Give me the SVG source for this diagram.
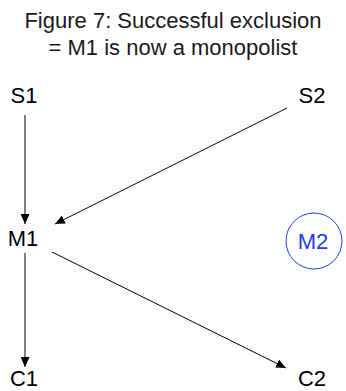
<svg xmlns="http://www.w3.org/2000/svg" width="346" height="391" viewBox="0 0 346 391">
<defs>
<style>
text{font-family:"Liberation Sans",Arial,sans-serif;text-anchor:middle}
.t{font-size:22px;fill:#1a1a1a}
.n{font-size:22px;fill:#000}
.b{fill:#1a3cff}
.e{stroke:#000;stroke-width:1;fill:none;marker-end:url(#ah)}
</style>
<marker id="ah" viewBox="0 0 10 10" refX="10" refY="5" markerWidth="10" markerHeight="9" markerUnits="userSpaceOnUse" orient="auto" preserveAspectRatio="none">
<path d="M0,0 L10,5 L0,10 z" fill="#000"/>
</marker>
</defs>
<rect width="346" height="391" fill="#fff"/>
<g id="title">
<text class="t" x="173" y="28">Figure 7: Successful exclusion</text>
<text class="t" x="173" y="55">= M1 is now a monopolist</text>
</g>
<g id="connectors">
<line class="e" x1="25" y1="115" x2="25" y2="224"/>
<line class="e" x1="287" y1="108" x2="55" y2="224"/>
<line class="e" x1="25" y1="253" x2="25" y2="367"/>
<line class="e" x1="52" y1="252" x2="286" y2="368"/>
</g>
<g id="S1"><text class="n" x="24" y="103">S1</text></g>
<g id="S2"><text class="n" x="312" y="103">S2</text></g>
<g id="M1"><text class="n" x="23" y="246">M1</text></g>
<g id="M2"><circle cx="314" cy="241" r="28" fill="none" stroke="#1a3cff" stroke-width="1"/><text class="n b" x="313" y="249">M2</text></g>
<g id="C1"><text class="n" x="24" y="386">C1</text></g>
<g id="C2"><text class="n" x="312" y="386">C2</text></g>
</svg>
